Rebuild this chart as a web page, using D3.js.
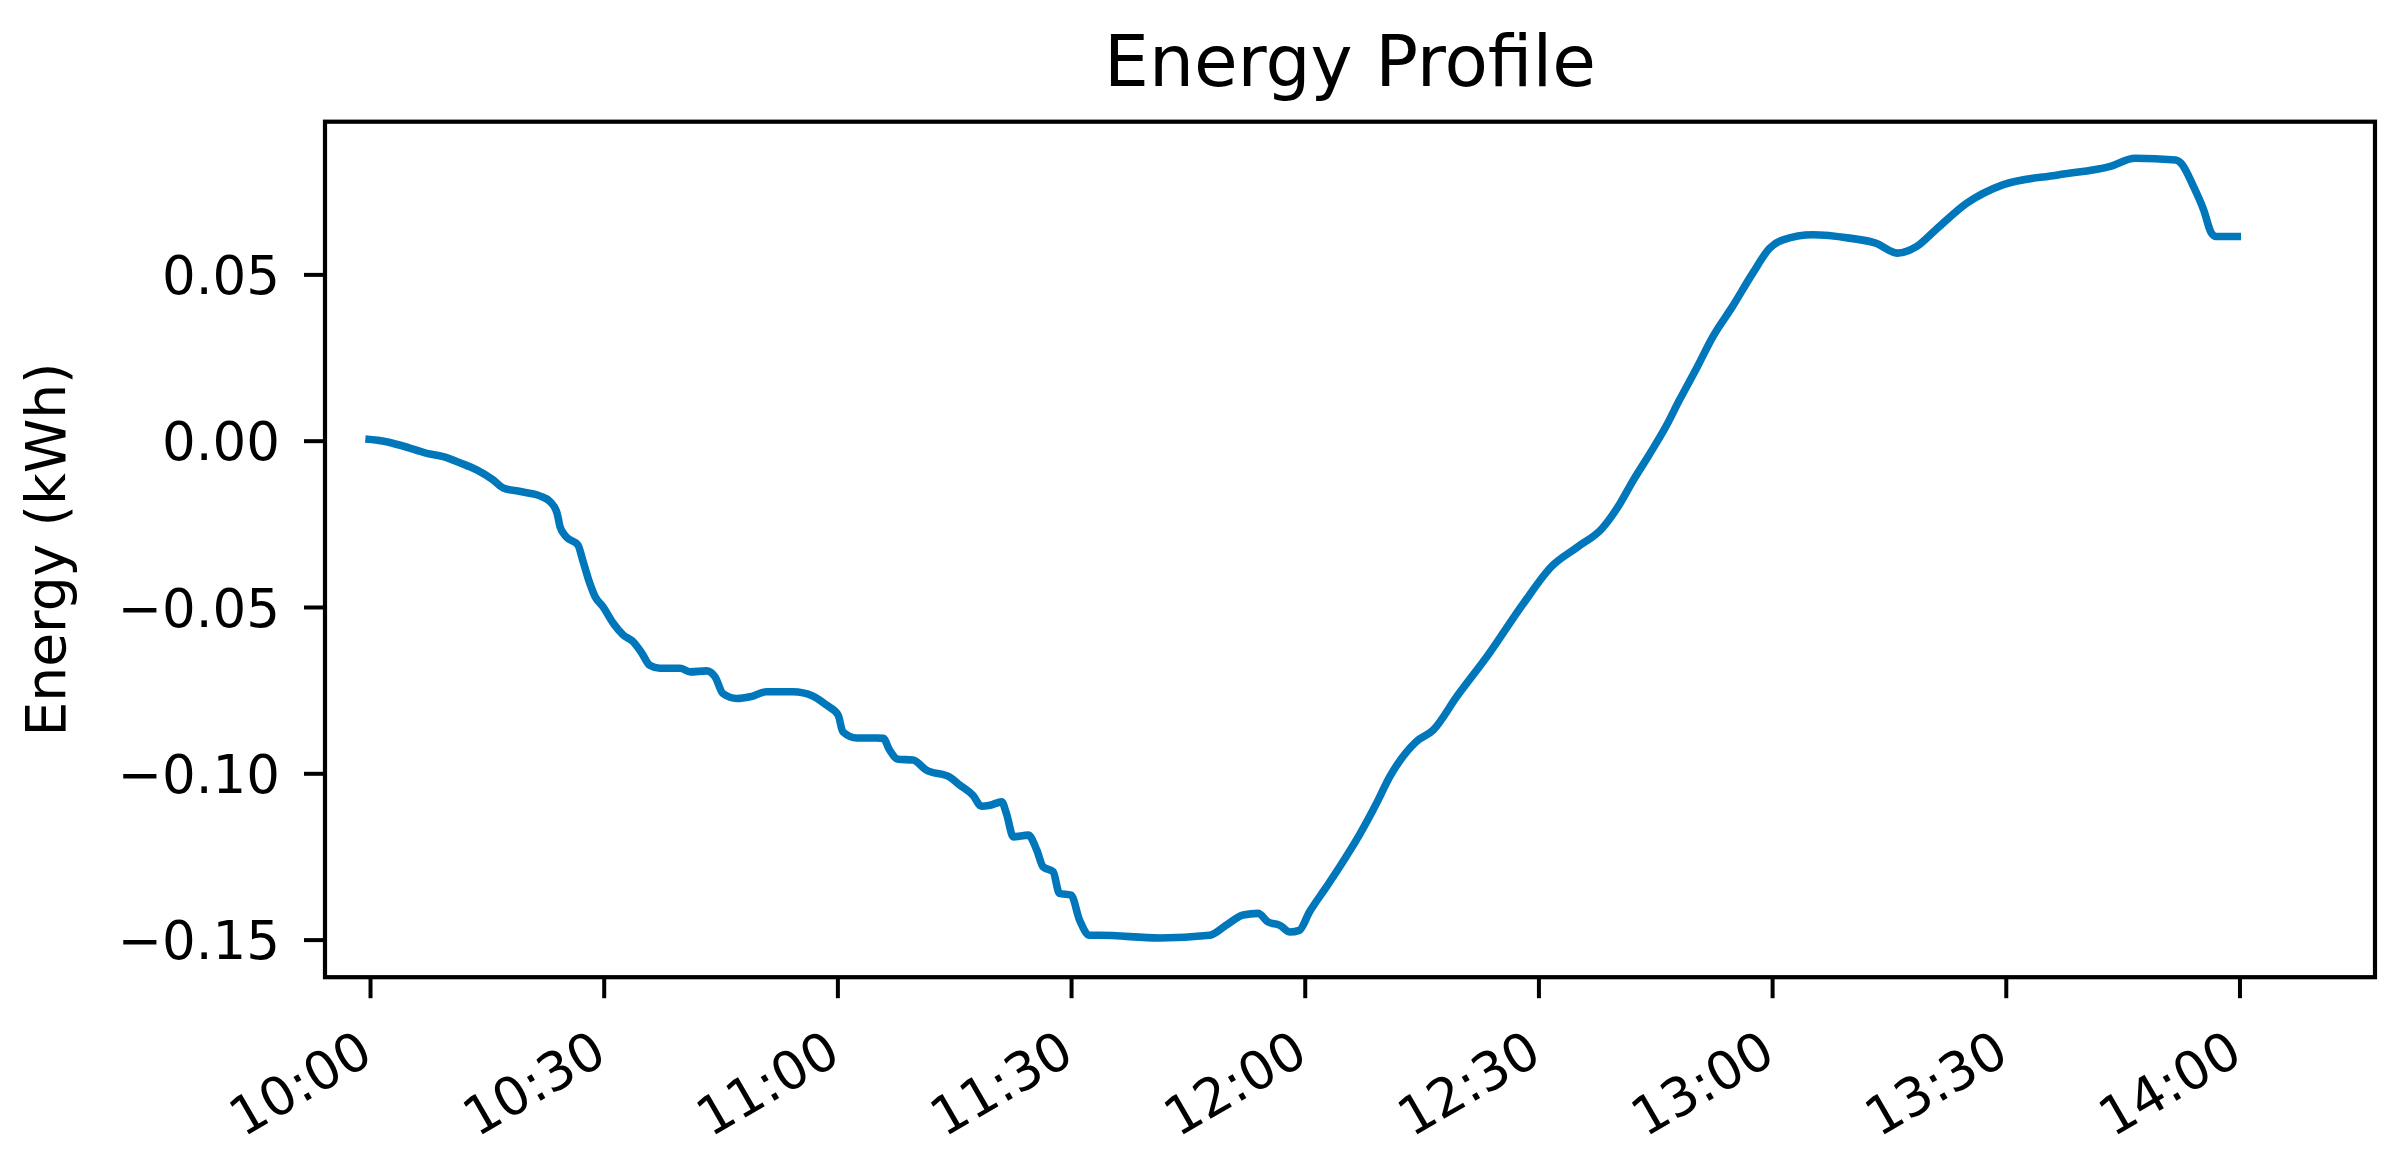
<!DOCTYPE html>
<html>
<head>
<meta charset="utf-8">
<script src="https://cdn.jsdelivr.net/npm/d3@7"></script>
<style>
  html, body { margin: 0; padding: 0; background: #ffffff; }
  svg { display: block; }
  text { font-family: "DejaVu Sans", sans-serif; fill: #000; }
</style>
</head>
<body>
<svg id="chart" width="2406" height="1168"></svg>
<script>
// ---- data ----
const chartTitle = "Energy Profile";
const yAxisLabel = "Energy (kWh)";
// minutes after 10:00
const minutes = [
  -0.6, 2.1, 4.2, 7.3, 9.4, 11.6, 13.7, 15.8, 17.1, 19.3, 21.8, 23.1, 24.0, 24.4, 25.2,
  26.7, 27.3, 28.2, 28.9, 29.9, 31.2, 32.5, 33.8, 34.9, 35.9, 37.2, 39.8, 41.1, 43.2, 44.3,
  45.3, 47.1, 48.8, 50.9, 54.3, 56.9, 58.6, 60.1, 60.7, 62.5, 65.0, 65.9, 66.7, 67.8, 69.7,
  71.4, 74.4, 75.7, 77.4, 78.5, 79.6, 81.1, 81.7, 82.6, 84.5, 85.6, 86.4, 87.7, 88.5, 90.0,
  91.1, 92.4, 93.7, 101.4, 107.8, 109.9, 112.1, 114.0, 115.3, 116.8, 118.1, 119.3, 120.6, 122.8,
  124.9, 127.0, 129.2, 130.9, 134.3, 136.5, 139.5, 143.7, 148.0, 151.7, 155.0, 158.2, 160.1,
  162.2, 164.2, 166.4, 168.1, 170.2, 172.4, 174.9, 177.5, 179.7, 181.4, 185.2, 189.9, 193.3,
  196.1, 198.5, 201.0, 205.0, 209.6, 216.7, 223.3, 226.6, 231.8, 232.5, 234.1, 235.4, 236.4,
  237.0, 240.2
];
const energy = [
  0.0005, -0.0003, -0.0016, -0.0038, -0.0048, -0.0067, -0.0088, -0.0118, -0.0142, -0.0153, -0.0166, -0.0183, -0.0217, -0.0259, -0.0289,
  -0.0314, -0.0359, -0.0428, -0.0469, -0.0499, -0.0548, -0.0584, -0.0605, -0.0639, -0.0675, -0.0684, -0.0684, -0.0695, -0.0692, -0.0710,
  -0.0760, -0.0775, -0.0770, -0.0755, -0.0755, -0.0768, -0.0795, -0.0825, -0.0875, -0.0894, -0.0894, -0.0895, -0.0930, -0.0958, -0.0960,
  -0.0990, -0.1011, -0.1035, -0.1066, -0.1099, -0.1096, -0.1086, -0.1121, -0.1191, -0.1186, -0.1231, -0.1281, -0.1296, -0.1361, -0.1366,
  -0.1442, -0.1487, -0.1487, -0.1495, -0.1487, -0.1457, -0.1426, -0.1421, -0.1447, -0.1457, -0.1477, -0.1472, -0.1417, -0.1341,
  -0.1266, -0.1186, -0.1091, -0.1011, -0.0905, -0.0870, -0.0770, -0.0639, -0.0492, -0.0378, -0.0320, -0.0263, -0.0203,
  -0.0118, -0.0043, 0.0044, 0.0122, 0.0213, 0.0313, 0.0403, 0.0503, 0.0579, 0.0604, 0.0619, 0.0609, 0.0594,
  0.0564, 0.0583, 0.0634, 0.0714, 0.0769, 0.0799, 0.0824, 0.0849, 0.0844, 0.0834, 0.0764, 0.0694, 0.0624,
  0.0614, 0.0614
];
const xTickLabels = ["10:00", "10:30", "11:00", "11:30", "12:00", "12:30", "13:00", "13:30", "14:00"];
const yTickValues = [0.05, 0.00, -0.05, -0.10, -0.15];

// ---- layout ----
const plot = { left: 325, right: 2375, top: 121.7, bottom: 977.2 };
const base = new Date(2024, 0, 1, 10, 0, 0);
const toDate = m => new Date(base.getTime() + m * 60000);
const parseHM = d3.timeParse("%Y-%m-%d %H:%M");

const x = d3.scaleTime()
  .domain([toDate(-5.78), toDate(257.4)])
  .range([plot.left, plot.right]);
const y = d3.scaleLinear()
  .domain([-0.1613, 0.0959])
  .range([plot.bottom, plot.top]);

const svg = d3.select("#chart");

// line
const series = minutes.map((m, i) => ({ t: toDate(m), v: energy[i] }));
const line = d3.line()
  .x(d => x(d.t))
  .y(d => y(d.v))
  .curve(d3.curveMonotoneX);

svg.append("path")
  .datum(series)
  .attr("fill", "none")
  .attr("stroke", "#0077BB")
  .attr("stroke-width", 7.6)
  .attr("stroke-linejoin", "round")
  .attr("d", line);

// axes
const tickLen = 21;
const xTicks = xTickLabels.map(s => parseHM("2024-01-01 " + s));
const xAxis = d3.axisBottom(x)
  .tickValues(xTicks)
  .tickFormat(d3.timeFormat("%H:%M"))
  .tickSize(tickLen);
const gx = svg.append("g")
  .attr("transform", `translate(0,${plot.bottom})`)
  .call(xAxis);
gx.select(".domain").remove();
gx.selectAll(".tick line").attr("stroke", "#000").attr("stroke-width", 4);
gx.selectAll(".tick text")
  .attr("font-size", 53)
  .attr("font-family", "DejaVu Sans")
  .attr("text-anchor", "end")
  .attr("x", 5)
  .attr("y", 84)
  .attr("dy", 0)
  .attr("transform", "rotate(-30 5 84)");

const yAxis = d3.axisLeft(y)
  .tickValues(yTickValues)
  .tickFormat(d3.format(".2f"))
  .tickSize(tickLen)
  .tickPadding(24);
const gy = svg.append("g")
  .attr("transform", `translate(${plot.left},0)`)
  .call(yAxis);
gy.select(".domain").remove();
gy.selectAll(".tick line").attr("stroke", "#000").attr("stroke-width", 4);
gy.selectAll(".tick text")
  .attr("font-size", 53)
  .attr("font-family", "DejaVu Sans")
  .attr("dy", "0.36em");

// frame
svg.append("rect")
  .attr("x", plot.left)
  .attr("y", plot.top)
  .attr("width", plot.right - plot.left)
  .attr("height", plot.bottom - plot.top)
  .attr("fill", "none")
  .attr("stroke", "#000")
  .attr("stroke-width", 4.2);

// title
svg.append("text")
  .attr("x", (plot.left + plot.right) / 2)
  .attr("y", 86)
  .attr("text-anchor", "middle")
  .attr("font-size", 71)
  .text(chartTitle);

// y label
svg.append("text")
  .attr("transform", `translate(65,${(plot.top + plot.bottom) / 2}) rotate(-90)`)
  .attr("text-anchor", "middle")
  .attr("font-size", 55)
  .text(yAxisLabel);
</script>
</body>
</html>
